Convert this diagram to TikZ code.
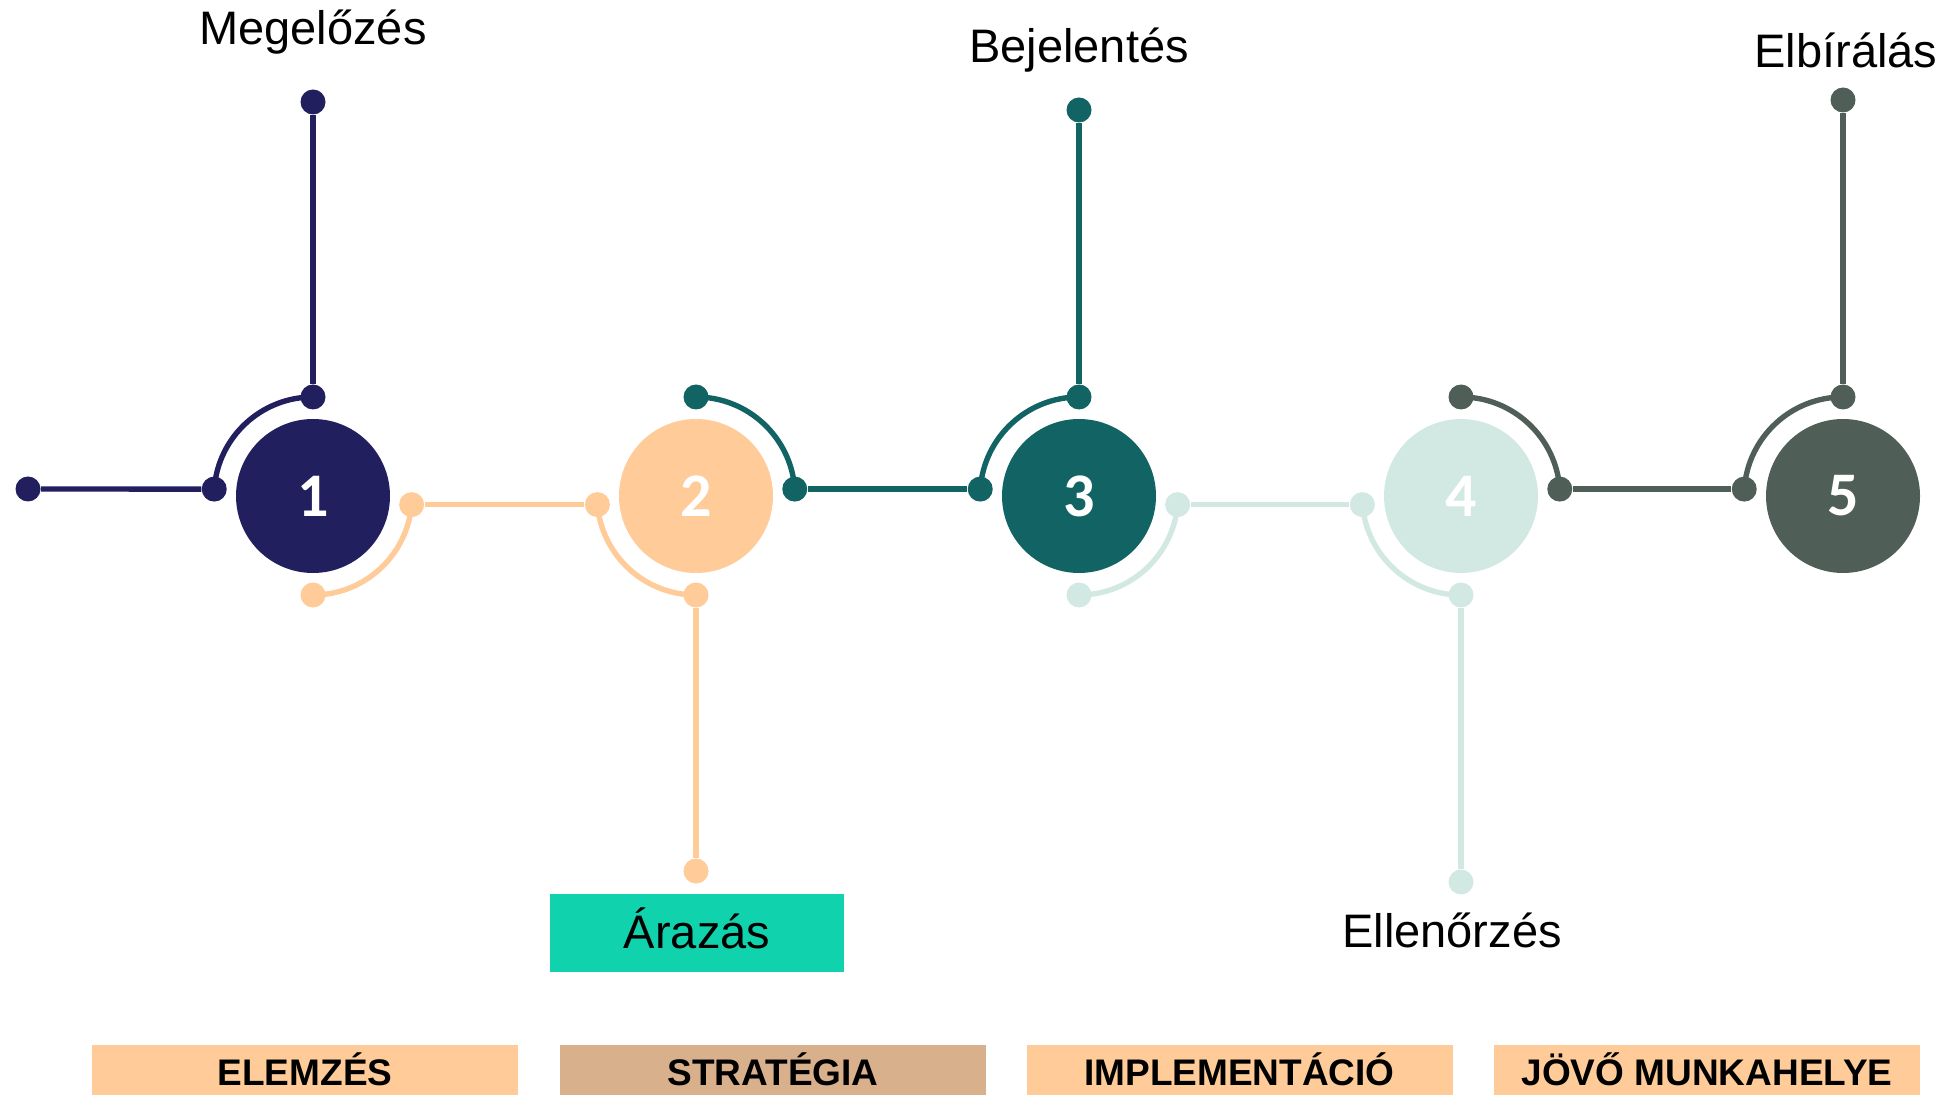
\documentclass[tikz,border=0pt]{standalone}
\usepackage{fontspec}
\setmainfont{Liberation Sans}
\newfontfamily\numfont{Carlito}
\usetikzlibrary{positioning}
\usetikzlibrary{calc}

\definecolor{navy}{RGB}{34,31,95}
\definecolor{peach}{RGB}{254,203,153}
\definecolor{petrol}{RGB}{18,100,100}
\definecolor{mint}{RGB}{210,233,227}
\definecolor{slate}{RGB}{79,95,88}
\definecolor{tan}{RGB}{217,176,140}
\definecolor{jade}{RGB}{16,210,173}

\tikzset{
  ball/.style={circle,fill=#1,inner sep=0pt,minimum size=77pt,text=white,
    font=\numfont\bfseries\fontsize{31}{31}\selectfont},
  bead/.style={circle,fill=#1,inner sep=0pt,minimum size=12.5pt},
  link/.style={draw=#1,line width=2.7pt},
  tag/.style={font=\fontsize{23.5}{24}\selectfont,inner sep=0pt,anchor=base},
  bar/.style={fill=#1,minimum width=213pt,minimum height=27.5pt,inner sep=0pt,
    text height=13.25pt,text depth=0pt,font=\bfseries\fontsize{18.5}{19}\selectfont}
}

\begin{document}
\begin{tikzpicture}[x=0.5pt,y=0.5pt]
\useasboundingbox (0,0) rectangle (1954,1094);

% the five steps
\node[ball=navy] (1) at (313,598) {1};
\node[ball=peach] (2) at (696,598) {2};
\node[ball=petrol] (3) at (1079,598) {3};
\node[ball=mint] (4) at (1461,598) {4};
\node[ball=slate] (5) at (1843,598) {5};

% beads on the rings
\node[bead=navy] (1w) at ($(1)+(176:49.5pt)$) {};
\node[bead=navy] (1n) at ($(1)+(90:49.5pt)$) {};
\node[bead=peach] (1se) at ($(1)+(-5:49.5pt)$) {};
\node[bead=peach] (1s) at ($(1)+(-90:49.5pt)$) {};
\node[bead=peach] (2sw) at ($(2)+(185:49.5pt)$) {};
\node[bead=peach] (2s) at ($(2)+(-90:49.5pt)$) {};
\node[bead=petrol] (2e) at ($(2)+(4:49.5pt)$) {};
\node[bead=petrol] (2n) at ($(2)+(90:49.5pt)$) {};
\node[bead=petrol] (3w) at ($(3)+(176:49.5pt)$) {};
\node[bead=petrol] (3n) at ($(3)+(90:49.5pt)$) {};
\node[bead=mint] (3se) at ($(3)+(-5:49.5pt)$) {};
\node[bead=mint] (3s) at ($(3)+(-90:49.5pt)$) {};
\node[bead=mint] (4sw) at ($(4)+(185:49.5pt)$) {};
\node[bead=mint] (4s) at ($(4)+(-90:49.5pt)$) {};
\node[bead=slate] (4e) at ($(4)+(4:49.5pt)$) {};
\node[bead=slate] (4n) at ($(4)+(90:49.5pt)$) {};
\node[bead=slate] (5w) at ($(5)+(176:49.5pt)$) {};
\node[bead=slate] (5n) at ($(5)+(90:49.5pt)$) {};

% loose ends
\node[bead=navy] (0) at (28,605) {};
\node[bead=navy] (1top) at (313,992) {};
\node[bead=peach] (2bot) at (696,223) {};
\node[bead=petrol] (3top) at (1079,984) {};
\node[bead=mint] (4bot) at (1461,212) {};
\node[bead=slate] (5top) at (1843,994) {};

% navy
\draw[link=navy] (0)--(1w);
\draw[link=navy] (1w.center) arc[start angle=176,end angle=90,radius=49.5pt];
\draw[link=navy] (1n)--(1top);
% peach
\draw[link=peach] (1se.center) arc[start angle=-5,end angle=-90,radius=49.5pt];
\draw[link=peach] (1se)--(2sw);
\draw[link=peach] (2sw.center) arc[start angle=185,end angle=270,radius=49.5pt];
\draw[link=peach] (2s)--(2bot);
% petrol
\draw[link=petrol] (2e.center) arc[start angle=4,end angle=90,radius=49.5pt];
\draw[link=petrol] (2e)--(3w);
\draw[link=petrol] (3w.center) arc[start angle=176,end angle=90,radius=49.5pt];
\draw[link=petrol] (3n)--(3top);
% mint
\draw[link=mint] (3se.center) arc[start angle=-5,end angle=-90,radius=49.5pt];
\draw[link=mint] (3se)--(4sw);
\draw[link=mint] (4sw.center) arc[start angle=185,end angle=270,radius=49.5pt];
\draw[link=mint] (4s)--(4bot);
% slate
\draw[link=slate] (4e.center) arc[start angle=4,end angle=90,radius=49.5pt];
\draw[link=slate] (4e)--(5w);
\draw[link=slate] (5w.center) arc[start angle=176,end angle=90,radius=49.5pt];
\draw[link=slate] (5n)--(5top);

% labels
\node[tag] (meg) at (313,1049) {Megelőzés};
\node[tag] (bej) at (1079,1031) {Bejelentés};
\node[tag] (elb) at (1846,1026) {Elbírálás};
\node[fill=jade,minimum width=147pt,minimum height=39pt,inner sep=0pt] (ar) at (697,161) {};
\node[tag] (arz) at (697,146) {Árazás};
\node[tag] (ell) at (1452,147) {Ellenőrzés};

% phases
\node[bar=peach] (p1) at (305,21.5) {ELEMZÉS};
\node[bar=tan] (p2) at (773,21.5) {STRATÉGIA};
\node[bar=peach] (p3) at (1239.5,21.5) {IMPLEMENTÁCIÓ};
\node[bar=peach] (p4) at (1707,21.5) {JÖVŐ MUNKAHELYE};
\end{tikzpicture}
\end{document}
